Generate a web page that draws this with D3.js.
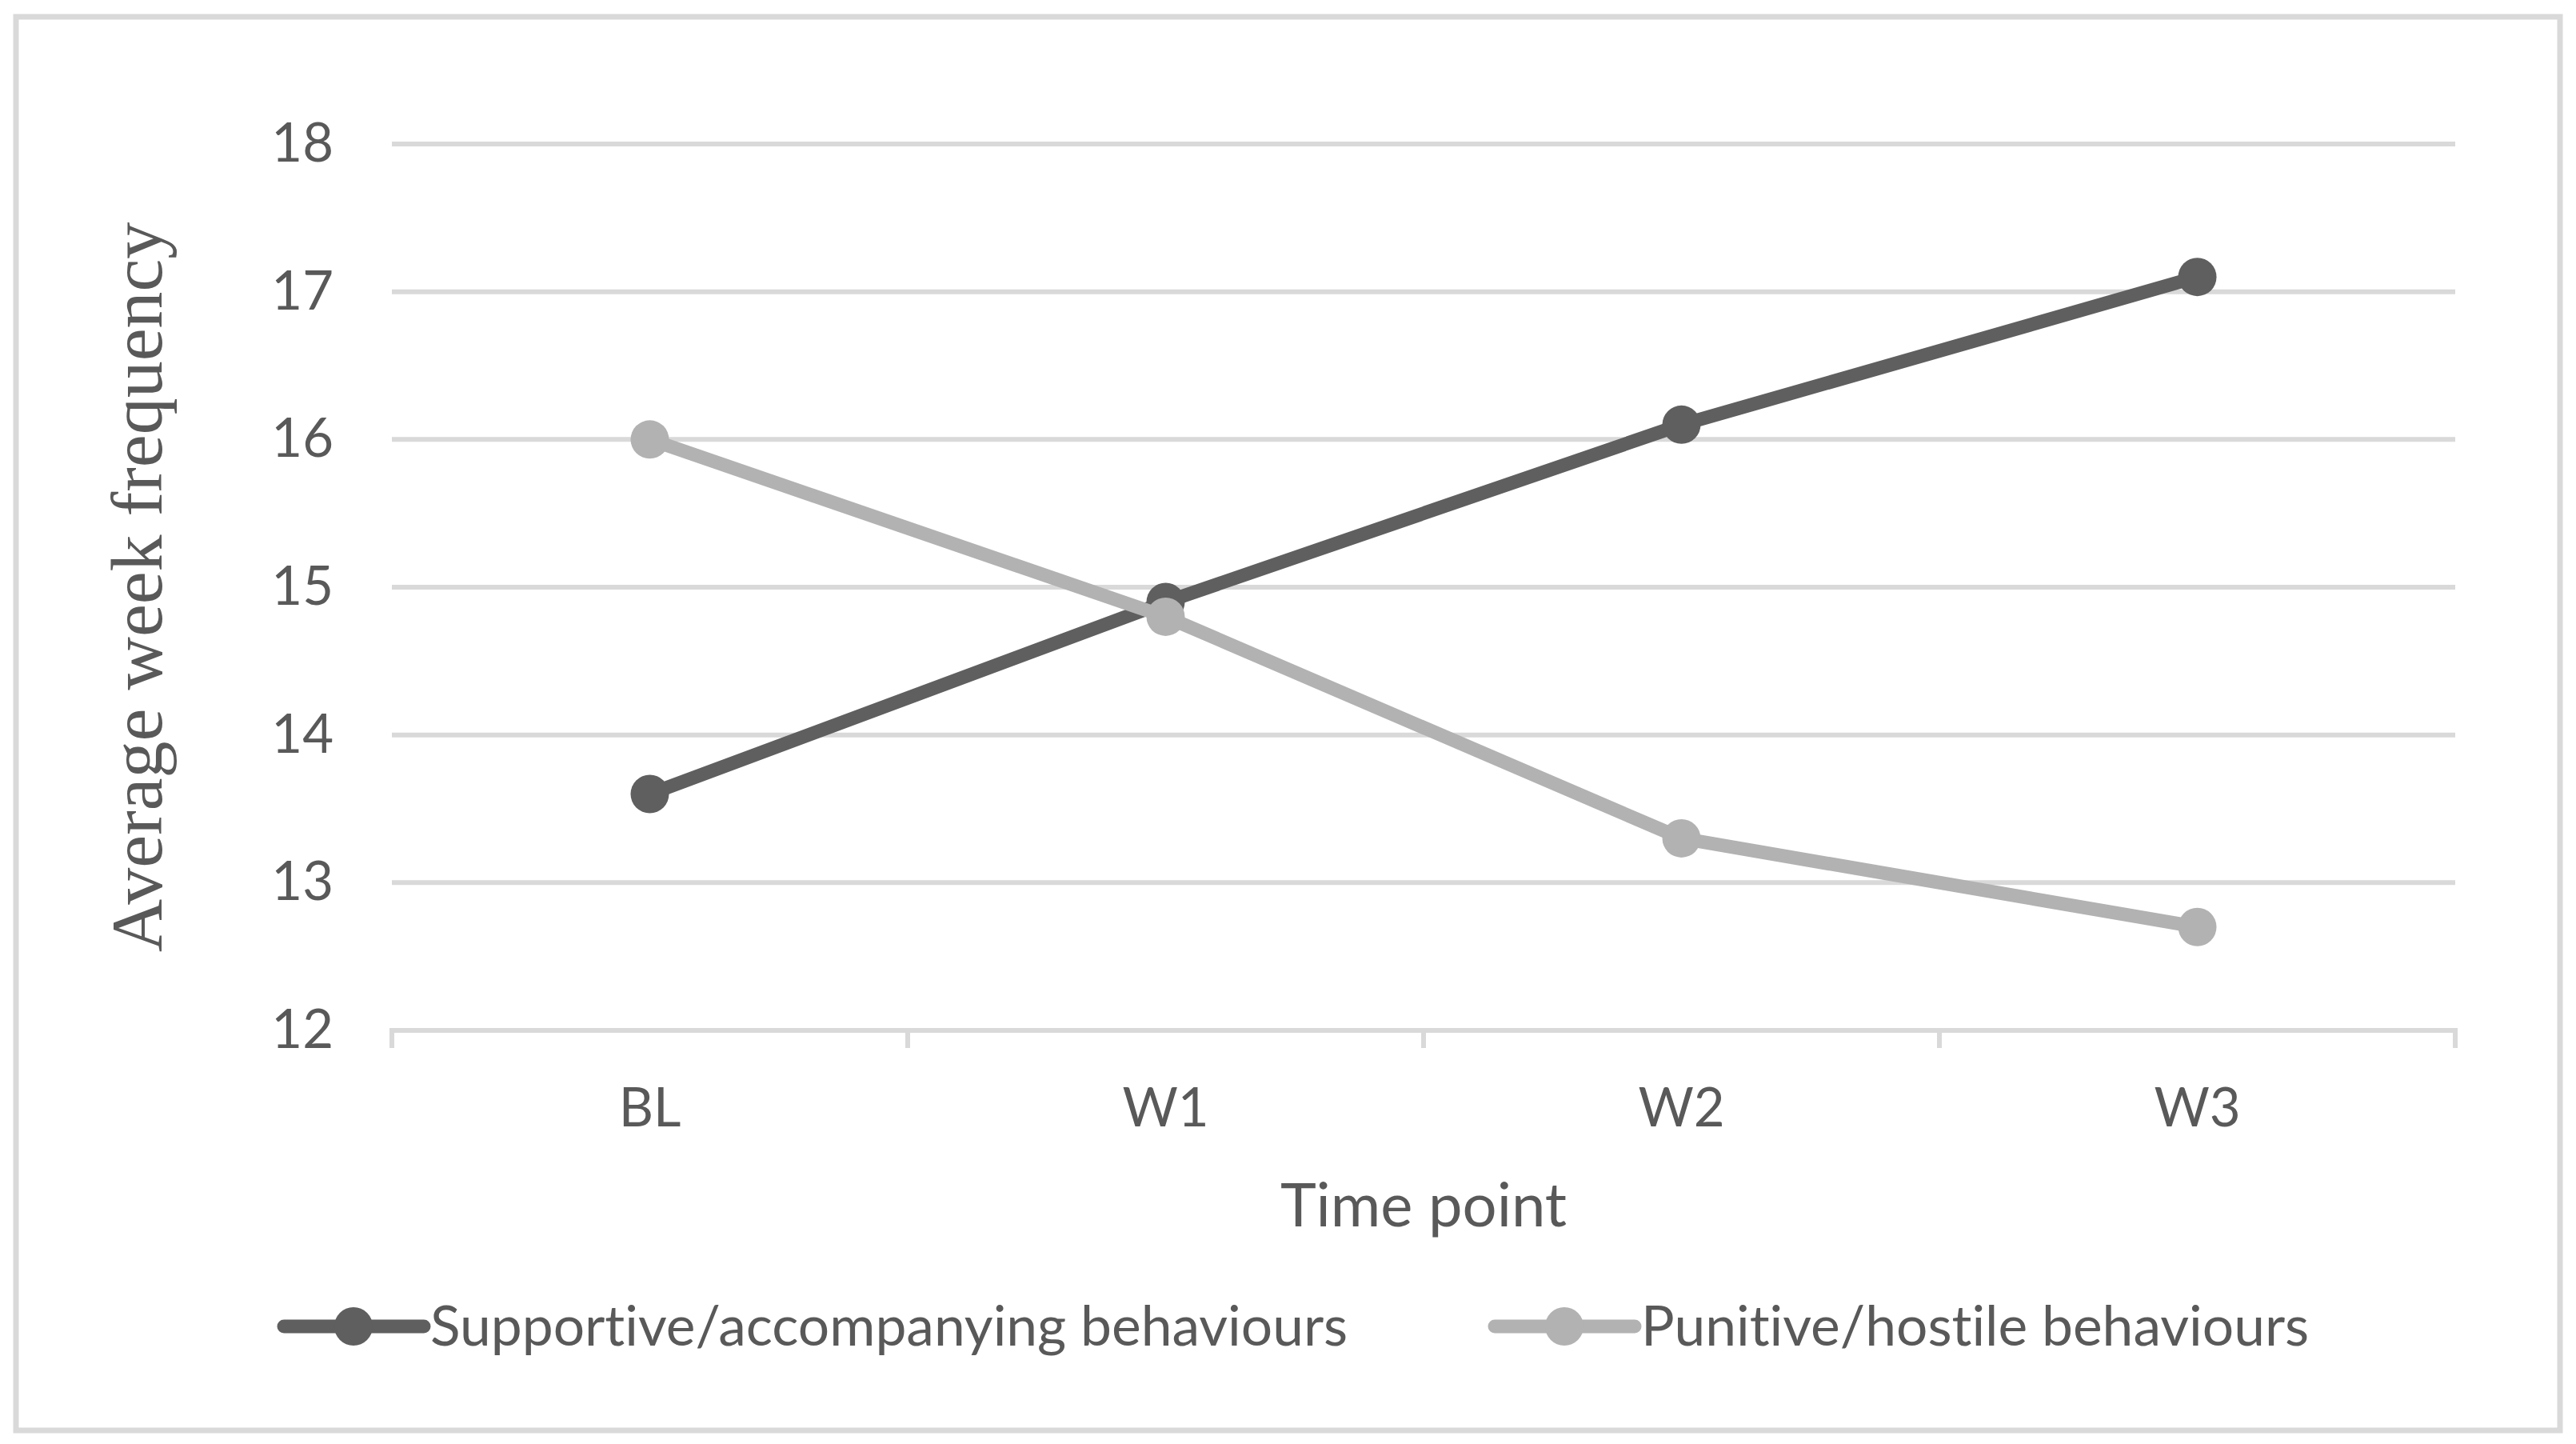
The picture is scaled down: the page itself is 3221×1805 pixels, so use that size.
<!DOCTYPE html>
<html><head><meta charset="utf-8">
<script src="https://cdn.jsdelivr.net/npm/d3@7"></script>
<style>html,body{margin:0;padding:0;background:#fff;} text{font-variant-ligatures:none;}</style>
</head><body>
<svg id="chart" width="3221" height="1805"></svg>
<script>
const categories = ["BL", "W1", "W2", "W3"];
const supportive = [13.6, 14.9, 16.1, 17.1];
const punitive = [16.0, 14.8, 13.3, 12.7];
const seriesNames = ["Supportive/accompanying behaviours", "Punitive/hostile behaviours"];
const yTicks = [12, 13, 14, 15, 16, 17, 18];

const svg = d3.select("#chart");
const W = 3221, H = 1805;
const margin = {left: 490, right: 3070, top: 180, bottom: 1288};
const textColor = "#595959";
const gridColor = "#d9d9d9";
const colors = ["#5f5f5f", "#b2b2b2"];
const font = "Lato, 'Open Sans', sans-serif";

svg.append("rect").attr("x", 0).attr("y", 0).attr("width", W).attr("height", H).attr("fill", "#fff");
svg.append("rect").attr("x", 20).attr("y", 21).attr("width", 3181).attr("height", 1767)
  .attr("fill", "none").attr("stroke", gridColor).attr("stroke-width", 7);

const x = d3.scaleBand().domain(categories).range([margin.left, margin.right]).padding(0);
const y = d3.scaleLinear().domain([12, 18]).range([margin.bottom, margin.top]);

// gridlines
svg.append("g").selectAll("line").data(yTicks).join("line")
  .attr("x1", margin.left).attr("x2", margin.right)
  .attr("y1", d => y(d)).attr("y2", d => y(d))
  .attr("stroke", gridColor).attr("stroke-width", 6);

// y axis labels
const yAxis = d3.axisLeft(y).tickValues(yTicks).tickSize(0).tickPadding(73).tickFormat(d3.format("d"));
const gy = svg.append("g").attr("transform", `translate(${margin.left},0)`).call(yAxis);
gy.select(".domain").remove();
gy.selectAll("text").attr("font-family", font).attr("font-size", 67).attr("fill", textColor);

// x axis: ticks at band boundaries
const xAxisG = svg.append("g").attr("transform", `translate(0,${margin.bottom})`);
const bounds = categories.map(c => x(c)).concat([x(categories[categories.length-1]) + x.bandwidth()]);
xAxisG.selectAll("line.tick").data(bounds).join("line")
  .attr("x1", d => d).attr("x2", d => d).attr("y1", -3).attr("y2", 22)
  .attr("stroke", gridColor).attr("stroke-width", 6);
const xAxis = d3.axisBottom(x).tickSize(0).tickPadding(72);
const gx = svg.append("g").attr("transform", `translate(0,${margin.bottom})`).call(xAxis);
gx.select(".domain").remove();
gx.selectAll("text").attr("font-family", font).attr("font-size", 67).attr("fill", textColor);

// axis titles
svg.append("text").attr("x", (margin.left + margin.right) / 2).attr("y", 1533)
  .attr("text-anchor", "middle").attr("font-family", font).attr("font-size", 76)
  .attr("fill", textColor).text("Time point");
svg.append("text").attr("transform", `translate(202,734) rotate(-90)`)
  .attr("text-anchor", "middle").attr("font-family", "'Liberation Serif', 'DejaVu Serif', serif")
  .attr("font-size", 92).attr("fill", textColor).text("Average week frequency");

// series
const line = d3.line().x((d, i) => x(categories[i]) + x.bandwidth() / 2).y(d => y(d));
[supportive, punitive].forEach((vals, si) => {
  const g = svg.append("g");
  g.append("path").datum(vals).attr("d", line).attr("fill", "none")
    .attr("stroke", colors[si]).attr("stroke-width", 17).attr("stroke-linejoin", "round");
  g.selectAll("circle").data(vals).join("circle")
    .attr("cx", (d, i) => x(categories[i]) + x.bandwidth() / 2).attr("cy", d => y(d))
    .attr("r", 24).attr("fill", colors[si]);
});

// legend
const legendItems = [{x0: 355, name: seriesNames[0], c: colors[0]}, {x0: 1869, name: seriesNames[1], c: colors[1]}];
const ly = 1658;
legendItems.forEach(it => {
  const g = svg.append("g");
  g.append("line").attr("x1", it.x0).attr("x2", it.x0 + 175).attr("y1", ly).attr("y2", ly)
    .attr("stroke", it.c).attr("stroke-width", 17).attr("stroke-linecap", "round");
  g.append("circle").attr("cx", it.x0 + 87).attr("cy", ly).attr("r", 24).attr("fill", it.c);
  g.append("text").attr("x", it.x0 + 183).attr("y", ly).attr("dy", "0.35em")
    .attr("font-family", font).attr("font-size", 69.5).attr("fill", textColor).text(it.name);
});
</script>
</body></html>
